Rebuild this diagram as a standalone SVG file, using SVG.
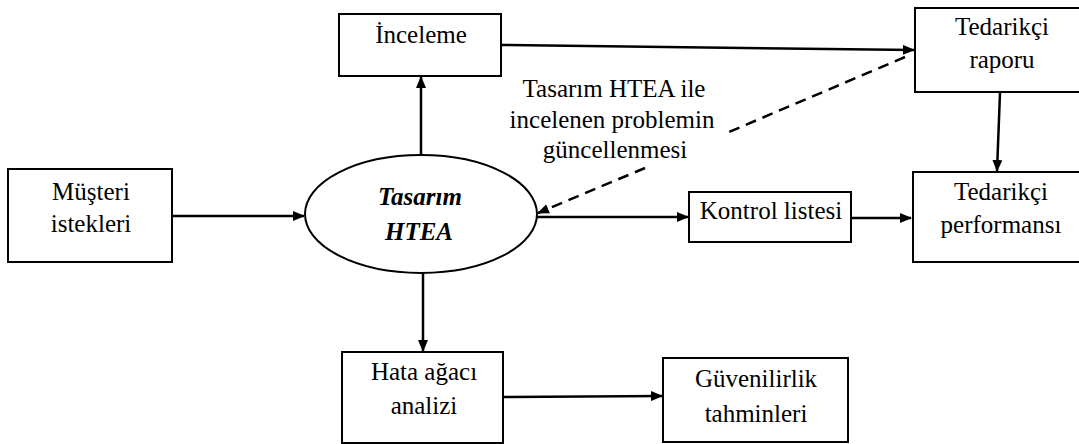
<svg xmlns="http://www.w3.org/2000/svg" width="1079" height="444" viewBox="0 0 1079 444">
  <style>
    .box { fill: #fff; stroke: #000; stroke-width: 2; }
    .lbl { font-family: 'Liberation Serif', 'DejaVu Serif', serif; font-size: 25px; fill: #000; text-anchor: middle; }
    .emph { font-weight: bold; font-style: italic; }
    .flow { fill: none; stroke: #000; stroke-width: 2.5; }
    .dash { fill: none; stroke: #000; stroke-width: 2.5; stroke-dasharray: 11 7; }
  </style>
  <defs>
    <marker id="arrow" markerUnits="userSpaceOnUse" markerWidth="12" markerHeight="10" refX="11" refY="5" orient="auto">
      <path d="M0,0 L12,5 L0,10 Z" fill="#000"/>
    </marker>
  </defs>
  <rect width="1079" height="444" fill="#fff"/>

  <g id="connectors">
    <line class="flow" x1="172" y1="216" x2="304" y2="216" marker-end="url(#arrow)"/>
    <line class="flow" x1="421" y1="155" x2="421" y2="77" marker-end="url(#arrow)"/>
    <line class="flow" x1="501" y1="45" x2="914" y2="50" marker-end="url(#arrow)"/>
    <line class="flow" x1="1000" y1="93" x2="997" y2="171" marker-end="url(#arrow)"/>
    <line class="flow" x1="536" y1="217" x2="688" y2="217" marker-end="url(#arrow)"/>
    <line class="flow" x1="851" y1="218" x2="911" y2="218" marker-end="url(#arrow)"/>
    <line class="flow" x1="423" y1="273" x2="423" y2="351" marker-end="url(#arrow)"/>
    <line class="flow" x1="503" y1="397" x2="662" y2="396" marker-end="url(#arrow)"/>
    <line class="dash" x1="905" y1="57" x2="729" y2="132"/>
    <line class="dash" x1="645" y1="168" x2="538" y2="213" marker-end="url(#arrow)"/>
  </g>

  <g font-family="Liberation Serif, DejaVu Serif, serif">
  <g id="tasarim-htea">
    <ellipse class="box" cx="421" cy="214" rx="116" ry="59"/>
    <text class="lbl emph" x="420" y="205" font-family="Liberation Serif">Tasarım</text>
    <text class="lbl emph" x="419" y="240" font-family="Liberation Serif">HTEA</text>
  </g>

  <g id="inceleme">
    <rect class="box" x="339" y="14" width="162" height="62"/>
    <text class="lbl" x="421" y="43" font-family="Liberation Serif">İnceleme</text>
  </g>

  <g id="tedarikci-raporu">
    <rect class="box" x="915" y="8" width="176" height="84"/>
    <text class="lbl" x="1002" y="35" font-family="Liberation Serif">Tedarikçi</text>
    <text class="lbl" x="1002" y="68" font-family="Liberation Serif">raporu</text>
  </g>

  <g id="tedarikci-performansi">
    <rect class="box" x="913" y="172" width="176" height="90"/>
    <text class="lbl" x="1001" y="200" font-family="Liberation Serif">Tedarikçi</text>
    <text class="lbl" x="1001" y="233" font-family="Liberation Serif">performansı</text>
  </g>

  <g id="musteri-istekleri">
    <rect class="box" x="8" y="169" width="164" height="93"/>
    <text class="lbl" x="91" y="200" font-family="Liberation Serif">Müşteri</text>
    <text class="lbl" x="91" y="232" font-family="Liberation Serif">istekleri</text>
  </g>

  <g id="kontrol-listesi">
    <rect class="box" x="689" y="192" width="162" height="50"/>
    <text class="lbl" x="771" y="219" font-family="Liberation Serif">Kontrol listesi</text>
  </g>

  <g id="hata-agaci">
    <rect class="box" x="342" y="352" width="161" height="91"/>
    <text class="lbl" x="424" y="380" font-family="Liberation Serif">Hata ağacı</text>
    <text class="lbl" x="424" y="414" font-family="Liberation Serif">analizi</text>
  </g>

  <g id="guvenilirlik">
    <rect class="box" x="663" y="358" width="185" height="84"/>
    <text class="lbl" x="756" y="387" font-family="Liberation Serif">Güvenilirlik</text>
    <text class="lbl" x="756" y="422" font-family="Liberation Serif">tahminleri</text>
  </g>

  <g id="guncelleme-notu">
    <text class="lbl" x="614" y="97" font-family="Liberation Serif">Tasarım HTEA ile</text>
    <text class="lbl" x="612" y="128" font-family="Liberation Serif">incelenen problemin</text>
    <text class="lbl" x="615" y="158" font-family="Liberation Serif">güncellenmesi</text>
  </g>
  </g>
</svg>
